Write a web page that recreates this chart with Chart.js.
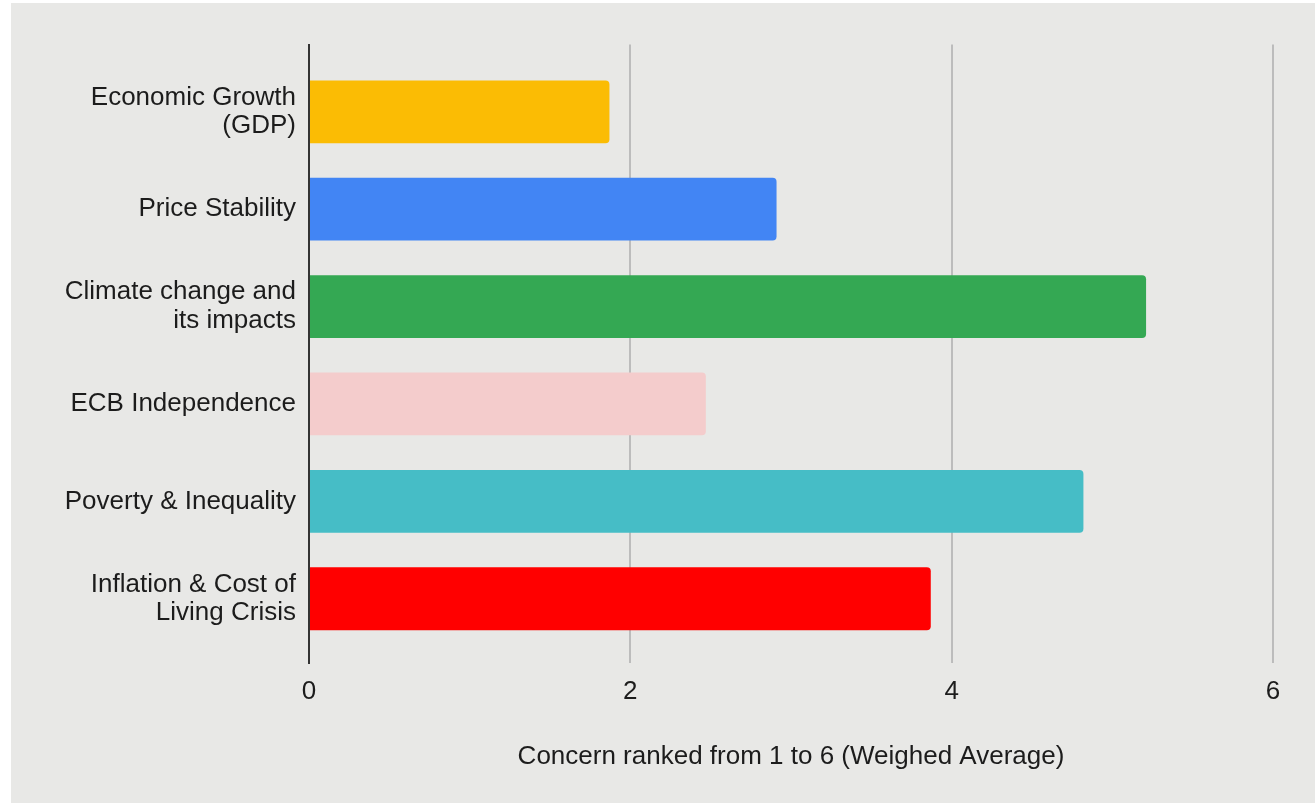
<!DOCTYPE html>
<html>
<head>
<meta charset="utf-8">
<title>Concern ranking</title>
<script src="https://cdn.jsdelivr.net/npm/chart.js@4/dist/chart.umd.min.js"></script>
<style>
	html, body { margin: 0; padding: 0; background: #ffffff; }
	#wrap {
		position: absolute;
		left: 11px;
		top: 3px;
		width: 1304px;
		height: 800px;
		background: #e8e8e6;
	}
	#chart { display: block; }
</style>
</head>
<body>
<div id="wrap"><canvas id="chart" width="1304" height="800"></canvas></div>
<script>
	// categories, top to bottom; arrays are wrapped lines
	var categories = [
		["Economic Growth", "(GDP)"],
		"Price Stability",
		["Climate change and", "its impacts"],
		"ECB Independence",
		"Poverty & Inequality",
		["Inflation & Cost of", "Living Crisis"]
	];
	var weighedAverage = [1.87, 2.91, 5.21, 2.47, 4.82, 3.87];
	var barColors = ["#fbbc04", "#4285f4", "#34a853", "#f4cccc", "#46bdc6", "#ff0000"];
	var xTicks = [0, 2, 4, 6];
	var xTitle = "Concern ranked from 1 to 6 (Weighed Average)";

	var FONT = "'Liberation Sans', Arial, Helvetica, sans-serif";
	var TEXT = "#1c1c1c";

	(function () {
		"use strict";

		// linear index axis so the band can sit inside a taller plot area
		var points = weighedAverage.map(function (v, i) { return { x: v, y: i }; });

		new Chart(document.getElementById("chart"), {
			type: "bar",
			data: {
				datasets: [{
					data: points,
					backgroundColor: barColors,
					borderRadius: 4,
					borderSkipped: "start",
					categoryPercentage: 1,
					barPercentage: 0.645
				}]
			},
			options: {
				indexAxis: "y",
				responsive: false,
				animation: false,
				devicePixelRatio: 1,
				layout: { padding: { left: 0, right: 42, top: 40, bottom: 0 } },
				plugins: {
					legend: { display: false },
					tooltip: { enabled: false }
				},
				scales: {
					x: {
						type: "linear",
						min: xTicks[0],
						max: xTicks[xTicks.length - 1],
						afterBuildTicks: function (scale) {
							scale.ticks = xTicks.map(function (v) { return { value: v }; });
						},
						afterFit: function (scale) { scale.height = 140; },
						grid: {
							drawTicks: false,
							lineWidth: 2,
							color: function (ctx) {
								return ctx.tick && ctx.tick.value === 0 ? "rgba(0,0,0,0)" : "#bcbcbc";
							}
						},
						border: { display: false },
						ticks: {
							padding: 13,
							color: TEXT,
							font: { family: FONT, size: 26 }
						},
						title: {
							display: true,
							text: xTitle,
							color: TEXT,
							font: { family: FONT, size: 26 },
							padding: { top: 0, bottom: 31 }
						}
					},
					y: {
						type: "linear",
						reverse: true,
						offset: false,
						min: -0.69,
						max: 5.66,
						afterFit: function (scale) { scale.width = 298; },
						grid: { display: false, drawTicks: false, offset: false },
						border: { display: true, color: "#333333", width: 2 },
						ticks: {
							stepSize: 1,
							includeBounds: false,
							autoSkip: false,
							padding: 13,
							color: TEXT,
							font: { family: FONT, size: 26, lineHeight: 1.1 },
							callback: function (value) {
								return Number.isInteger(value) && categories[value] !== undefined ? categories[value] : "";
							}
						}
					}
				}
			}
		});
	})();
</script>
</body>
</html>
